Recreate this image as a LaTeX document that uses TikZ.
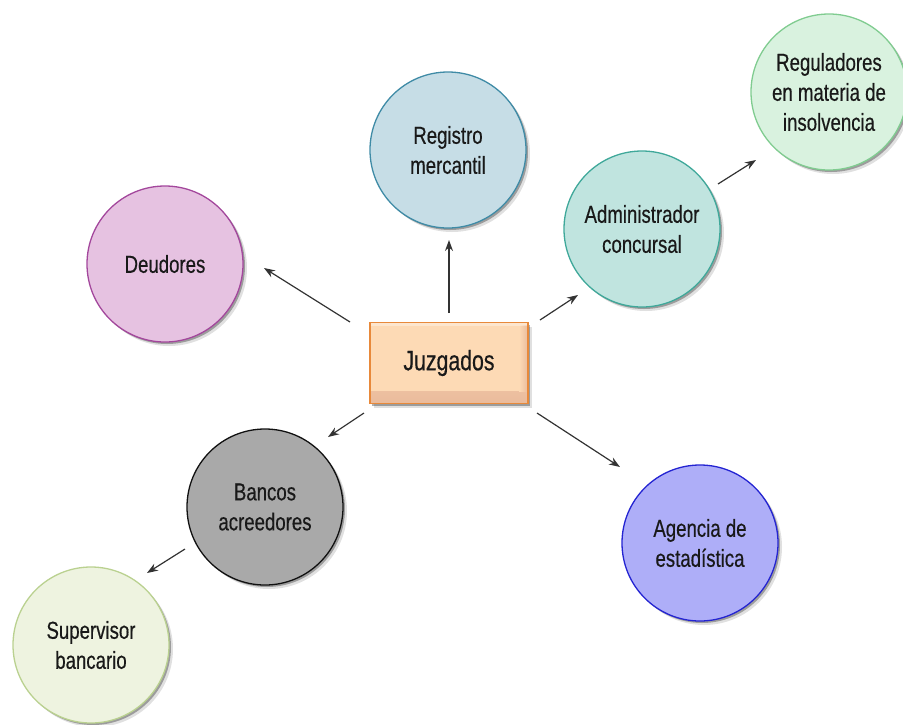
\documentclass[tikz,border=0pt]{standalone}
\usepackage{fontspec}
\setmainfont{Liberation Sans}[FakeStretch=0.76, FakeBold=0.4]
\usetikzlibrary{arrows.meta,shadows}

\definecolor{regfill}{HTML}{C6DDE6}\definecolor{regline}{HTML}{3F8BA6}
\definecolor{deufill}{HTML}{E6C2E1}\definecolor{deuline}{HTML}{A3479C}
\definecolor{admfill}{HTML}{C0E4DF}\definecolor{admline}{HTML}{3FA89A}
\definecolor{insfill}{HTML}{D9F2DF}\definecolor{insline}{HTML}{80CC90}
\definecolor{banfill}{HTML}{A9A9A9}\definecolor{banline}{HTML}{111111}
\definecolor{agefill}{HTML}{AEAEF8}\definecolor{ageline}{HTML}{2424D2}
\definecolor{supfill}{HTML}{EEF3E0}\definecolor{supline}{HTML}{BAD190}
\definecolor{juzfill}{HTML}{FDDAB5}\definecolor{juzdark}{HTML}{EABB9C}
\definecolor{juzline}{HTML}{E8893A}
\definecolor{arrowgrey}{HTML}{333333}

\tikzset{
  softshadow/.style={
    drop shadow={shadow xshift=4pt, shadow yshift=-4pt, opacity=.12, fill=black},
    drop shadow={shadow xshift=2pt, shadow yshift=-2pt, opacity=.3, fill=black}},
  bubble/.style={circle, minimum size=156pt, inner sep=0pt, line width=1.3pt,
    align=center, font=\fontsize{24.5}{30}\selectfont, text=black!90, softshadow},
  court/.style={rectangle, minimum width=158pt, minimum height=81pt, inner sep=0pt,
    line width=1.3pt, draw=juzline, fill=juzfill, font=\fontsize{28}{30}\selectfont,
    text=black!90, softshadow,
    path picture={
      \shade[top color=juzfill, bottom color=juzdark]
        ([yshift=12pt]path picture bounding box.south west) rectangle (path picture bounding box.south east);
      \shade[left color=juzfill, right color=juzdark]
        ([xshift=-9pt,yshift=-3pt]path picture bounding box.north east) rectangle ([yshift=12pt]path picture bounding box.south east);
      \fill[white, opacity=.35]
        (path picture bounding box.north west) rectangle ([yshift=-3pt]path picture bounding box.north east);
    }},
  link/.style={-{Stealth[length=11pt,width=8pt]}, line width=1.2pt, draw=arrowgrey},
}

\begin{document}
\begin{tikzpicture}[x=1pt, y=-1pt]
  \useasboundingbox (0,0) rectangle (903,724);

  % central court and the bodies around it
  \node[court] (juz) at (449,363) {Juzgados};
  \node[bubble, fill=regfill, draw=regline] (reg) at (448,150) {Registro\\mercantil};
  \node[bubble, fill=deufill, draw=deuline] (deu) at (165,264) {Deudores};
  \node[bubble, fill=admfill, draw=admline] (adm) at (642,229) {Administrador\\concursal};
  \node[bubble, fill=insfill, draw=insline] (ins) at (829,92) {Reguladores\\en materia de\\insolvencia};
  \node[bubble, fill=banfill, draw=banline] (ban) at (265,507) {Bancos\\acreedores};
  \node[bubble, fill=agefill, draw=ageline] (age) at (700,543) {Agencia de\\estadística};
  \node[bubble, fill=supfill, draw=supline] (sup) at (91,645) {Supervisor\\bancario};

  % arrow ends, kept clear of the shapes
  \coordinate (juz-reg) at (449,313);  \coordinate (reg-in) at (449,240);
  \coordinate (juz-deu) at (350,322);  \coordinate (deu-in) at (264,268);
  \coordinate (juz-adm) at (540,320);  \coordinate (adm-in) at (578,295);
  \coordinate (adm-ins) at (718,184);  \coordinate (ins-in) at (756,160);
  \coordinate (juz-ban) at (364,413);  \coordinate (ban-in) at (328,437);
  \coordinate (juz-age) at (537,413);  \coordinate (age-in) at (620,467);
  \coordinate (ban-sup) at (185,549);  \coordinate (sup-in) at (147,573);

  \draw[link] (juz-reg) -- (reg-in);
  \draw[link] (juz-deu) -- (deu-in);
  \draw[link] (juz-adm) -- (adm-in);
  \draw[link] (adm-ins) -- (ins-in);
  \draw[link] (juz-ban) -- (ban-in);
  \draw[link] (juz-age) -- (age-in);
  \draw[link] (ban-sup) -- (sup-in);
\end{tikzpicture}
\end{document}
